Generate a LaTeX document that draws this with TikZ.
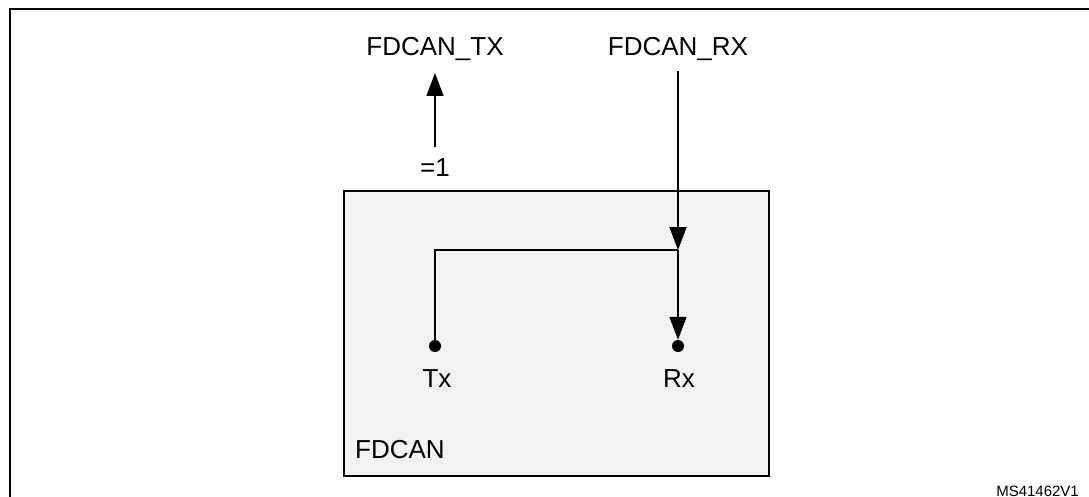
\documentclass[tikz,border=0pt]{standalone}
\usepackage{fontspec}
\setmainfont{Liberation Sans}
\usepackage{tikz}
\usetikzlibrary{arrows.meta,positioning,calc}
\definecolor{boxgray}{HTML}{F2F2F2}
\tikzset{
  sig/.style={line width=1.6pt},
  tip/.style={-{Triangle[width=17pt,length=23pt]}},
  label/.style={inner sep=0pt,anchor=base,font=\fontsize{26}{30}\selectfont},
  pindot/.style={circle,fill=black,inner sep=0pt,minimum size=12pt},
  fdcanbox/.style={draw,line width=2pt,fill=boxgray,minimum width=425pt,minimum height=285pt,inner sep=0pt}
}
\begin{document}
\begin{tikzpicture}[x=1pt,y=-1pt]
    \useasboundingbox (0,0) rectangle (1089,497);
    \draw[line width=2pt] (9.5,497) -- (9.5,9.5) -- (1089,9.5);
    % block
    \node[fdcanbox] (fdcan) at (556.5,333.5) {};
    \node[label,anchor=base west] (fdcanname) at (355,458) {FDCAN};
    % pins
    \node[pindot] (txpin) at (435,346) {};
    \node[pindot] (rxpin) at (678,346) {};
    \node[label] (txname) at (437,387) {Tx};
    \node[label] (rxname) at (679,387) {Rx};
    % signals
    \node[label] (txsig) at (435,56) {FDCAN\_TX};
    \node[label] (rxsig) at (678,56) {FDCAN\_RX};
    \node[label] (one) at (435,177) {=1};
    \coordinate (txout) at (435,73);
    \coordinate (rxin) at (678,71);
    \coordinate (split) at (678,250);
    \draw[sig,tip,shorten <=12pt] (one.north) -- (txout);
    \draw[sig,tip] (rxin) -- (split);
    \draw[sig,tip] (split) -- (rxpin);
    \draw[sig] (split) -| (txpin);
    \node[inner sep=0pt,anchor=base east,font=\fontsize{15}{18}\selectfont] (figid) at (1079,496) {MS41462V1};
\end{tikzpicture}
\end{document}
